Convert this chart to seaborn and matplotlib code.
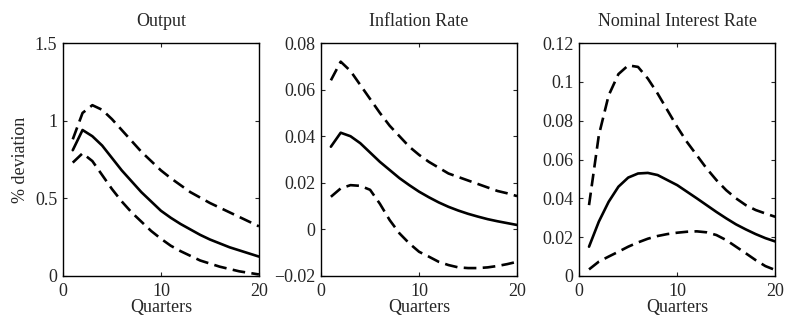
import numpy as np
import pandas as pd
import matplotlib
matplotlib.use("Agg")
import matplotlib.pyplot as plt
import seaborn as sns

quarters = list(range(1, 21))

output_median = [0.81, 0.94, 0.90, 0.84, 0.76, 0.68, 0.61, 0.54, 0.48, 0.42,
                 0.375, 0.335, 0.30, 0.265, 0.235, 0.21, 0.185, 0.165, 0.145, 0.125]
output_upper = [0.88, 1.05, 1.10, 1.07, 1.01, 0.94, 0.87, 0.80, 0.74, 0.68,
                0.63, 0.585, 0.54, 0.505, 0.47, 0.44, 0.41, 0.38, 0.35, 0.32]
output_lower = [0.73, 0.79, 0.74, 0.65, 0.56, 0.48, 0.41, 0.35, 0.29, 0.24,
                0.195, 0.16, 0.13, 0.10, 0.08, 0.06, 0.045, 0.03, 0.02, 0.01]

infl_median = [0.0355, 0.0415, 0.040, 0.037, 0.033, 0.029, 0.0255, 0.022, 0.019, 0.0162,
               0.0138, 0.0116, 0.0097, 0.0081, 0.0067, 0.0055, 0.0044, 0.0035, 0.0027, 0.0019]
infl_upper = [0.064, 0.072, 0.068, 0.062, 0.056, 0.050, 0.0445, 0.040, 0.0355, 0.032,
              0.029, 0.0265, 0.024, 0.0225, 0.021, 0.0195, 0.018, 0.0165, 0.0155, 0.0143]
infl_lower = [0.014, 0.0176, 0.019, 0.0187, 0.017, 0.011, 0.004, -0.0017, -0.006, -0.0096,
              -0.0117, -0.0139, -0.0153, -0.0163, -0.0166, -0.0166, -0.0163, -0.0157, -0.0149, -0.0139]

rate_median = [0.0151, 0.028, 0.0382, 0.046, 0.0507, 0.0528, 0.0531, 0.052, 0.0494, 0.0468,
               0.0434, 0.040, 0.0365, 0.033, 0.0297, 0.0266, 0.024, 0.0216, 0.0195, 0.0178]
rate_upper = [0.0365, 0.0725, 0.093, 0.104, 0.1085, 0.1077, 0.1017, 0.094, 0.0854, 0.0768,
              0.069, 0.0622, 0.0554, 0.0494, 0.0442, 0.040, 0.0365, 0.034, 0.0322, 0.0305]
rate_lower = [0.0034, 0.0074, 0.010, 0.0125, 0.0151, 0.0173, 0.0192, 0.0206, 0.0216, 0.0223,
              0.0228, 0.023, 0.0225, 0.0211, 0.0185, 0.0151, 0.0117, 0.0082, 0.0051, 0.0031]

titles = ["Output", "Inflation Rate", "Nominal Interest Rate"]
y_limits = [(0, 1.5), (-0.02, 0.08), (0, 0.12)]
y_ticks = [[0, 0.5, 1, 1.5],
           [-0.02, 0, 0.02, 0.04, 0.06, 0.08],
           [0, 0.02, 0.04, 0.06, 0.08, 0.1, 0.12]]
y_ticklabels = [["0", "0.5", "1", "1.5"],
                ["\u22120.02", "0", "0.02", "0.04", "0.06", "0.08"],
                ["0", "0.02", "0.04", "0.06", "0.08", "0.1", "0.12"]]
x_ticks = [0, 10, 20]
x_ticklabels = ["0", "10", "20"]

series = [(output_median, output_upper, output_lower),
          (infl_median, infl_upper, infl_lower),
          (rate_median, rate_upper, rate_lower)]

sns.set_style("ticks")
plt.rcParams["font.family"] = ["Liberation Serif", "DejaVu Serif"]
plt.rcParams["font.size"] = 12
plt.rcParams["xtick.direction"] = "in"
plt.rcParams["ytick.direction"] = "in"
plt.rcParams["xtick.major.size"] = 3
plt.rcParams["ytick.major.size"] = 3
plt.rcParams["axes.linewidth"] = 1.0
plt.rcParams["axes.edgecolor"] = "black"

fig = plt.figure(figsize=(7.87, 3.2), dpi=100)
lefts = [0.080, 0.408, 0.736]
width, bottom, height = 0.249, 0.1375, 0.728

for i in range(3):
    ax = fig.add_axes([lefts[i], bottom, width, height])
    med, up, lo = series[i]
    df = pd.DataFrame({
        "Quarter": quarters * 3,
        "value": med + up + lo,
        "band": ["median"] * 20 + ["upper"] * 20 + ["lower"] * 20,
    })
    sns.lineplot(data=df[df.band == "median"], x="Quarter", y="value",
                 color="black", linewidth=1.9, ax=ax)
    for b in ["upper", "lower"]:
        sns.lineplot(data=df[df.band == b], x="Quarter", y="value",
                     color="black", linewidth=1.9, ax=ax,
                     linestyle=(0, (4.8, 2.4)))
    ax.set_xlim(0, 20)
    ax.set_ylim(*y_limits[i])
    ax.set_xticks(x_ticks)
    ax.set_xticklabels(x_ticklabels)
    ax.set_yticks(y_ticks[i])
    ax.set_yticklabels(y_ticklabels[i])
    ax.tick_params(top=True, right=True, labelsize=13, width=0.8)
    ax.tick_params(axis="x", pad=5)
    ax.tick_params(axis="y", pad=4)
    ax.set_title(titles[i], fontsize=13, pad=12)
    ax.set_xlabel("Quarters", fontsize=13, labelpad=-1)
    ax.set_ylabel("% deviation" if i == 0 else "", fontsize=13, labelpad=4)
    for s in ax.spines.values():
        s.set_visible(True)

fig.savefig("out.png", dpi=100)
